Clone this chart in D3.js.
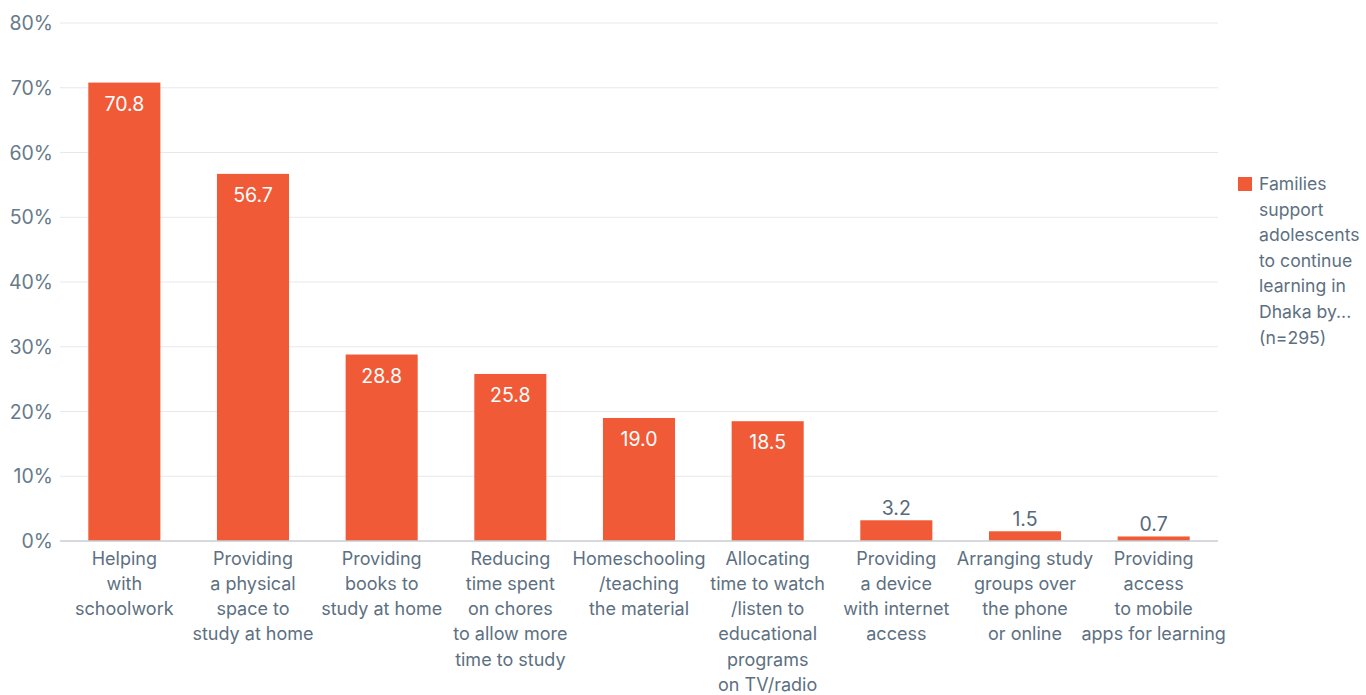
<!DOCTYPE html>
<html>
<head>
<meta charset="utf-8">
<script src="https://cdn.jsdelivr.net/npm/d3@7"></script>
<style>
  html, body { margin: 0; padding: 0; background: #ffffff; }
  svg { display: block; font-family: Inter, "Noto Sans", sans-serif; }
</style>
</head>
<body>
<svg id="chart" width="1366" height="695"></svg>
<script>
// Category labels, pre-broken into lines
const categories = [
  ["Helping", "with", "schoolwork"],
  ["Providing", "a physical", "space to", "study at home"],
  ["Providing", "books to", "study at home"],
  ["Reducing", "time spent", "on chores", "to allow more", "time to study"],
  ["Homeschooling", "/teaching", "the material"],
  ["Allocating", "time to watch", "/listen to", "educational", "programs", "on TV/radio"],
  ["Providing", "a device", "with internet", "access"],
  ["Arranging study", "groups over", "the phone", "or online"],
  ["Providing", "access", "to mobile", "apps for learning"]
];
const values = [70.8, 56.7, 28.8, 25.8, 19.0, 18.5, 3.2, 1.5, 0.7];
const yTicks = [0, 10, 20, 30, 40, 50, 60, 70, 80];
const legendLines = ["Families", "support", "adolescents", "to continue", "learning in", "Dhaka by...", "(n=295)"];

const barColor = "#f15a36";
const axisText = "#667a8a";

const svg = d3.select("#chart");
const margin = { left: 60, right: 148, top: 23, bottom: 154 };
const W = 1366, H = 695;

const x = d3.scaleBand()
  .domain(d3.range(values.length))
  .range([margin.left, W - margin.right])
  .paddingInner(0.44)
  .paddingOuter(0.22);

const y = d3.scaleLinear().domain([0, 80]).range([H - margin.bottom, margin.top]);

// Gridlines
svg.append("g").selectAll("line").data(yTicks.filter(d => d > 0)).join("line")
  .attr("x1", margin.left).attr("x2", W - margin.right)
  .attr("y1", d => y(d)).attr("y2", d => y(d))
  .attr("stroke", "#e6e8ea").attr("stroke-width", 1);

// Y tick labels
svg.append("g").selectAll("text").data(yTicks).join("text")
  .attr("x", 53).attr("y", d => y(d)).attr("dy", "0.36em")
  .attr("text-anchor", "end")
  .attr("fill", axisText).attr("font-size", 19.5)
  .text(d => d + "%");

// Bars
svg.append("g").selectAll("rect").data(values).join("rect")
  .attr("x", (d, i) => x(i)).attr("width", x.bandwidth())
  .attr("y", d => y(d)).attr("height", d => y(0) - y(d))
  .attr("fill", barColor);

// Baseline
svg.append("line")
  .attr("x1", margin.left).attr("x2", W - margin.right)
  .attr("y1", y(0)).attr("y2", y(0))
  .attr("stroke", "#c9ced3").attr("stroke-width", 1.5);

// Value labels: inside the bar when tall, above it when short
svg.append("g").selectAll("text").data(values).join("text")
  .attr("x", (d, i) => x(i) + x.bandwidth() / 2)
  .attr("y", d => d > 10 ? y(d) + 28 : y(d) - 5)
  .attr("text-anchor", "middle")
  .attr("font-size", 19.5)
  .attr("fill", d => d > 10 ? "#ffffff" : "#566a7b")
  .text(d => d.toFixed(1));

// Category labels
const cat = svg.append("g").selectAll("text").data(categories).join("text")
  .attr("text-anchor", "middle")
  .attr("font-size", 18)
  .attr("fill", "#5d7081");
cat.each(function(lines, i) {
  d3.select(this).selectAll("tspan").data(lines).join("tspan")
    .attr("x", x(i) + x.bandwidth() / 2)
    .attr("y", (l, j) => 564.5 + j * 25.3)
    .text(l => l);
});

// Legend
const lg = svg.append("g");
lg.append("rect").attr("x", 1238).attr("y", 177).attr("width", 14).attr("height", 14).attr("fill", barColor);
lg.append("text").attr("font-size", 17.6).attr("fill", "#5d7081")
  .selectAll("tspan").data(legendLines).join("tspan")
  .attr("x", 1259).attr("y", (l, j) => 190 + j * 25.6)
  .text(l => l);
</script>
</body>
</html>
